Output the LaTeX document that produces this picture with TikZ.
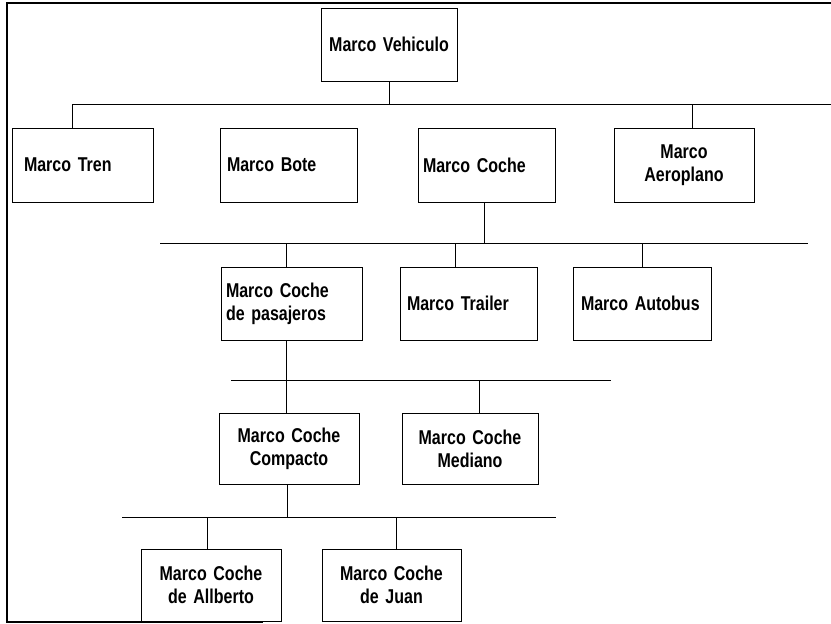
\documentclass[tikz,border=0pt]{standalone}
\usepackage{fontspec}
\setmainfont{Liberation Sans}[FakeStretch=0.8,WordSpace=0.75,UprightFont=*-Bold]
\begin{document}
\begin{tikzpicture}[x=1pt,y=-1pt,
  frame/.style={line width=2pt,line cap=rect},
  wire/.style={line width=0.9pt},
  box/.style={draw,line width=0.9pt,minimum height=#1,inner ysep=1pt,
    font=\fontsize{20}{23}\selectfont},
  lbox/.style 2 args={box=73,align=left,inner xsep=#1,text width=#2-2*#1},
  cbox/.style 2 args={box=#1,align=center,inner xsep=4pt,text width=#2-8pt}]
\useasboundingbox (0,0) rectangle (831,624);

% outer frame
\draw[frame] (831,3) -- (7,3) -- (7,622) -- (262,622);

% level 0
\node[cbox={73}{136}] (veh) at (389,44.5) {Marco Vehiculo};

% level 1
\node[lbox={12pt}{141}, minimum height=74] (tren) at (82.5,165) {Marco Tren};
\node[lbox={7pt}{137}, minimum height=74] (bote) at (288.5,165) {Marco Bote};
\node[lbox={5pt}{137}, minimum height=74] (coche) at (486.5,165) {Marco Coche};
\node[cbox={74}{140}] (aero) at (684,165) {Marco\\Aeroplano};

% level 2
\node[lbox={5pt}{141}] (pas) at (291.5,303.5) {Marco Coche\\de pasajeros};
\node[lbox={7pt}{137}] (trailer) at (468.5,303.5) {Marco Trailer};
\node[lbox={8pt}{138}] (bus) at (642,303.5) {Marco Autobus};

% level 3
\node[cbox={71}{140}] (comp) at (289,448.5) {Marco Coche\\Compacto};
\node[cbox={71}{136}] (med) at (470,448.5) {Marco Coche\\Mediano};

% level 4
\node[cbox={72}{140}] (alb) at (211,585) {Marco Coche\\de Allberto};
\node[cbox={72}{139}] (juan) at (391.5,585) {Marco Coche\\de Juan};

% bus lines
\coordinate (b1l) at (72,104);   \coordinate (b1r) at (831,104);
\coordinate (b2l) at (160,243);  \coordinate (b2r) at (808,243);
\coordinate (b3l) at (231,380);  \coordinate (b3r) at (611,380);
\coordinate (b4l) at (122,517);  \coordinate (b4r) at (556,517);

\draw[wire] (b1l) -- (b1r);
\draw[wire] (b2l) -- (b2r);
\draw[wire] (b3l) -- (b3r);
\draw[wire] (b4l) -- (b4r);

% connectors
\draw[wire] (veh.south) -- (veh.south |- b1l);
\draw[wire] (b1l) -- (b1l |- tren.north);
\draw[wire] ([xshift=8pt]aero.north) -- ([xshift=8pt]aero.north |- b1l);

\draw[wire] ([xshift=-2.5pt]coche.south) -- ([xshift=-2.5pt]coche.south |- b2l);
\draw[wire] ([xshift=-5.5pt]pas.north) -- ([xshift=-5.5pt]pas.north |- b2l);
\draw[wire] ([xshift=-13.5pt]trailer.north) -- ([xshift=-13.5pt]trailer.north |- b2l);
\draw[wire] (bus.north) -- (bus.north |- b2l);

\draw[wire] ([xshift=-5.5pt]pas.south) -- ([xshift=-5.5pt]pas.south |- comp.north);
\draw[wire] ([xshift=9pt]med.north) -- ([xshift=9pt]med.north |- b3l);

\draw[wire] ([xshift=-2pt]comp.south) -- ([xshift=-2pt]comp.south |- b4l);
\draw[wire] ([xshift=-4pt]alb.north) -- ([xshift=-4pt]alb.north |- b4l);
\draw[wire] ([xshift=4.5pt]juan.north) -- ([xshift=4.5pt]juan.north |- b4l);
\end{tikzpicture}
\end{document}
